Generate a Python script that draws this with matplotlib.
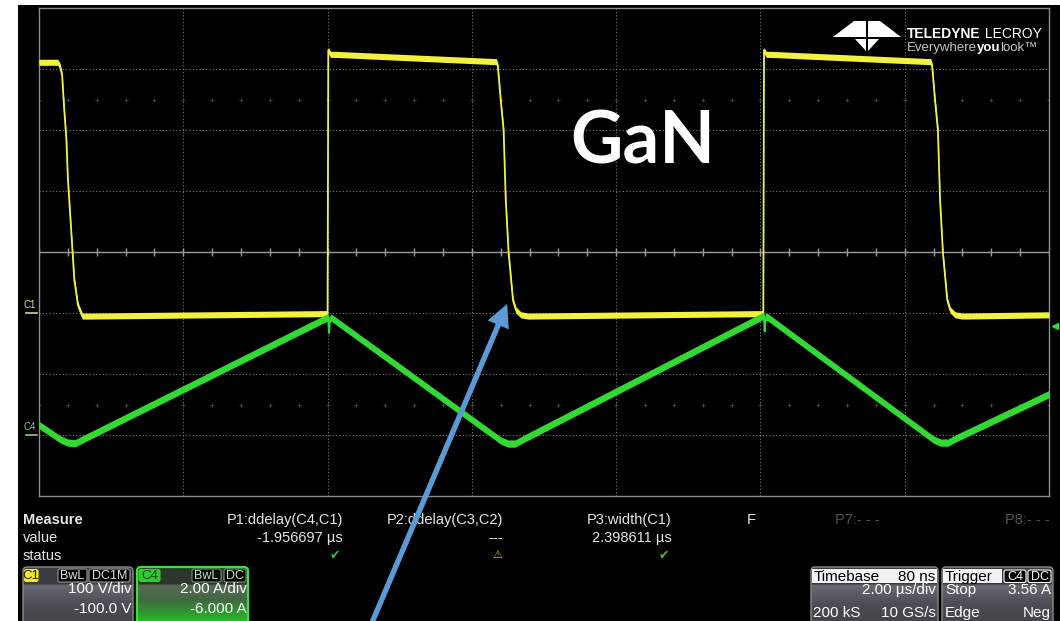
import numpy as np
import matplotlib
matplotlib.use('Agg')
import matplotlib.pyplot as plt
from matplotlib.patches import Rectangle, FancyBboxPatch, Polygon, ConnectionPatch, ArrowStyle
from matplotlib.colors import LinearSegmentedColormap

plt.rcParams['font.family'] = ['Liberation Sans', 'DejaVu Sans']

W, H = 1060, 621

# scope settings
time_div = 2.0                     # us/div
n_xdiv = 7
c1_vdiv, c1_offset = 100.0, -100.0  # V/div, V
c4_idiv, c4_offset = 2.0, -6.0      # A/div, A
trig_level = 3.56                   # A

# C1: switch node voltage (V) vs time (us)
c1_t = [0.00, 0.26, 0.29, 0.32, 0.35, 0.38, 0.40, 0.49, 0.54, 0.60, 0.70,
        4.00, 4.01, 4.04, 4.10, 6.34, 6.36, 6.40, 6.44, 6.47, 6.51, 6.57, 6.61, 6.68, 6.78,
        10.04, 10.05, 10.08, 10.14, 12.36, 12.38, 12.42, 12.46, 12.49, 12.53, 12.59, 12.63, 12.70, 12.80,
        14.00]
c1_v = [411, 411, 405, 390, 333, 284, 221, 54, 13, -5, -5,
        -1, 431, 424, 424, 412, 405, 349, 300, 185, 98, 21, 5, -3, -5,
        -1, 431, 424, 424, 412, 405, 349, 300, 185, 98, 21, 5, -3, -5,
        -3]

# C4: inductor current (A) vs time (us)
c4_t = [0.00, 0.30, 0.40, 0.50, 0.60, 4.01, 4.02, 4.03, 4.05, 6.40, 6.50, 6.60, 6.70,
        10.05, 10.06, 10.07, 10.09, 12.40, 12.50, 12.60, 12.70, 14.00]
c4_i = [0.33, -0.15, -0.25, -0.27, -0.15, 3.87, 3.35, 3.80, 3.85, -0.18, -0.28, -0.28, -0.15,
        3.92, 3.40, 3.85, 3.88, -0.15, -0.25, -0.25, -0.12, 1.34]

# measurement table
meas_names = ['P1:ddelay(C4,C1)', 'P2:ddelay(C3,C2)', 'P3:width(C1)']
meas_values = ['-1.956697 µs', '---', '2.398611 µs']
meas_status = ['ok', 'warn', 'ok']

YEL = '#f2f23c'
GRN = '#32d932'
GRID = '#7c7c7c'
BOX_FS = 11

fig = plt.figure(figsize=(W / 100, H / 100), dpi=100, facecolor='white')

# background / panel axes in pixel coords (y down)
ax_bg = fig.add_axes([0, 0, 1, 1])
ax_bg.set_xlim(0, W)
ax_bg.set_ylim(H, 0)
ax_bg.axis('off')
ax_bg.add_patch(Rectangle((18, 5), W - 18, H - 5, fc='black', ec='none', zorder=0))

# ---- scope grid ----
L, R, T, B = 39, 1049, 8, 496
ax = fig.add_axes([L / W, 1 - B / H, (R - L) / W, (B - T) / H])
ax.set_facecolor('none')
ax.set_xlim(0, n_xdiv * time_div)
ax.set_ylim(-4, 4)
ax.set_xticks([])
ax.set_yticks([])
for s in ax.spines.values():
    s.set_color('#8c8c8c')
    s.set_linewidth(1.0)
for k in range(1, n_xdiv):
    ax.axvline(k * time_div, color=GRID, lw=0.8, ls=(0, (1, 2)))
for k in [-3, -2, -1, 1, 2, 3]:
    ax.axhline(k, color=GRID, lw=0.8, ls=(0, (1, 2)))
ax.axhline(0, color='#9c9c9c', lw=1.0)
ticks = np.arange(0, n_xdiv * time_div + 0.001, time_div / 5)
ax.plot(ticks, np.zeros_like(ticks), ls='none', marker='|', ms=6, mew=1, color='#9c9c9c')
for yy in (2.5, -2.5):
    ax.plot(ticks, np.full_like(ticks, yy), ls='none', marker='+', ms=3, mew=0.7, color='#444444')

# C1 trace (volts)
ax_c1 = ax.twinx()
c1_center = -c1_offset
ax_c1.set_ylim(c1_center - 4 * c1_vdiv, c1_center + 4 * c1_vdiv)
ax_c1.axis('off')
v = np.array(c1_v, dtype=float)
ax_c1.fill_between(c1_t, v - 5, v + 5, color=YEL, lw=0)
ax_c1.plot(c1_t, v, color=YEL, lw=1.3)

# C4 trace (amps)
ax_c4 = ax.twinx()
c4_center = -c4_offset
ax_c4.set_ylim(c4_center - 4 * c4_idiv, c4_center + 4 * c4_idiv)
ax_c4.axis('off')
i = np.array(c4_i, dtype=float)
ax_c4.fill_between(c4_t, i - 0.12, i + 0.12, color=GRN, lw=0)
ax_c4.plot(c4_t, i, color=GRN, lw=1.5)

# channel ground markers and trigger level
for a, name, col in [(ax_c1, 'C1', '#d8d890'), (ax_c4, 'C4', '#90c890')]:
    tr = a.get_yaxis_transform()
    a.plot([-0.013, -0.002], [0, 0], color=col, lw=1.2, transform=tr, clip_on=False)
    a.annotate(name, xy=(-0.0158, 0), xycoords=tr, xytext=(0, 2), textcoords='offset points',
               fontsize=7, color=col, va='bottom', ha='left', annotation_clip=False)
ax_c4.plot([1.006], [trig_level], marker='<', ms=5, color=GRN, transform=ax_c4.get_yaxis_transform(),
           clip_on=False)

# ---- measurement panel ----
txt = dict(color='#e6e6e6', fontsize=10.5, va='center')
ax_bg.text(23, 520, 'Measure', fontweight='bold', **txt)
ax_bg.text(23, 538, 'value', **txt)
ax_bg.text(23, 556, 'status', **txt)
for xr, name, val, st in zip([343, 503, 672], meas_names, meas_values, meas_status):
    ax_bg.text(xr, 520, name, ha='right', **txt)
    ax_bg.text(xr, 538, val, ha='right', **txt)
    if st == 'ok':
        ax_bg.text(xr - 3, 556, '\u2714', ha='right', va='center', fontsize=9, color='#3cb83c',
                   family='DejaVu Sans')
    else:
        ax_bg.text(xr - 1, 555, '\u26a0', ha='right', va='center', fontsize=8, color='#e8c41c',
                   family='DejaVu Sans')
ax_bg.text(747, 520, 'F', ha='left', **txt)
ax_bg.text(835, 520, 'P7:- - -', ha='left', color='#555555', fontsize=10.5, va='center')
ax_bg.text(1050, 520, 'P8:- - -', ha='right', color='#555555', fontsize=10.5, va='center')


def grad_box(x0, y0, x1, y1, stops, edge, lw=1.0):
    patch = FancyBboxPatch((x0, y0), x1 - x0, y1 - y0, boxstyle='round,pad=0,rounding_size=4',
                           fc='none', ec=edge, lw=lw, zorder=3)
    ax_bg.add_patch(patch)
    cmap = LinearSegmentedColormap.from_list('g', stops)
    img = ax_bg.imshow(np.linspace(0, 1, 64)[:, None], cmap=cmap, extent=(x0, x1, y1, y0),
                       aspect='auto', zorder=1, interpolation='bilinear')
    img.set_clip_path(patch)


def tag(x0, y0, x1, y1, s, fc, tc, ec='#9a9a9a', fs=9):
    ax_bg.add_patch(FancyBboxPatch((x0, y0), x1 - x0, y1 - y0, boxstyle='round,pad=0,rounding_size=2',
                                   fc=fc, ec=ec, lw=0.8, zorder=4))
    ax_bg.text((x0 + x1) / 2, (y0 + y1) / 2 + 0.5, s, ha='center', va='center', fontsize=fs,
               color=tc, zorder=5)


def body(x, y, s, ha, col='white'):
    ax_bg.text(x, y, s, ha=ha, va='baseline', fontsize=BOX_FS, color=col, zorder=5)


gray_stops = [(0, '#3a3a42'), (0.27, '#3a3a42'), (0.30, '#686872'), (0.62, '#4c4c54'), (1, '#424248')]
green_stops = [(0, '#2c362c'), (0.27, '#2c362c'), (0.30, '#5a665a'), (0.55, '#3f6a3f'), (1, '#1ed21e')]

# C1 box
grad_box(23, 567, 133, 628, gray_stops, '#8a8a8a')
tag(24.5, 569.5, 38, 581.5, 'C1', '#f0e832', '#222200', ec='#f0e832', fs=9.5)
tag(58, 569, 87, 582, 'BwL', 'black', '#dddddd')
tag(89, 569, 130, 582, 'DC1M', 'black', '#dddddd')
body(132, 593, '100 V/div', 'right')
body(132, 613, '-100.0 V', 'right')

# C4 box
grad_box(137, 567, 248, 628, green_stops, '#38e038', lw=1.6)
tag(139, 569.5, 160, 581.5, 'C4', '#2ad02a', '#103010', ec='#2ad02a', fs=9.5)
tag(192, 569, 221, 582, 'BwL', 'black', '#bfe8bf', ec='#6a9a6a')
tag(224, 569, 246, 582, 'DC', 'black', '#bfe8bf', ec='#6a9a6a')
body(247, 593, '2.00 A/div', 'right')
body(247, 613, '-6.000 A', 'right')

# Timebase box
grad_box(811, 567, 938, 628, gray_stops, '#8a8a8a')
ax_bg.add_patch(Rectangle((812, 569), 125, 14, fc='#f4f4f4', ec='none', zorder=4))
body(814, 581, 'Timebase', 'left', 'black')
body(935, 581, '80 ns', 'right', 'black')
body(936, 594, '2.00 µs/div', 'right')
body(813, 617, '200 kS', 'left')
body(936, 617, '10 GS/s', 'right')

# Trigger box
grad_box(942, 567, 1053, 628, gray_stops, '#8a8a8a')
ax_bg.add_patch(Rectangle((943, 569), 59, 14, fc='#f4f4f4', ec='none', zorder=4))
body(945, 581, 'Trigger', 'left', 'black')
tag(1004, 570, 1026, 582.5, 'C4', 'black', 'white', ec='white')
tag(1028, 570, 1051, 582.5, 'DC', 'black', 'white', ec='white')
body(945, 594, 'Stop', 'left')
body(1051, 594, f'{trig_level:.2f} A', 'right')
body(945, 617, 'Edge', 'left')
body(1051, 617, 'Neg', 'right')
ax_bg.set_xlim(0, W)
ax_bg.set_ylim(H, 0)

# ---- overlay: logo, GaN label, arrow ----
ax_top = fig.add_axes([0, 0, 1, 1])
ax_top.set_xlim(0, W)
ax_top.set_ylim(H, 0)
ax_top.axis('off')
ax_top.set_zorder(5)

for poly in ([(833, 37), (854, 21), (866, 21), (866, 37)],
             [(901, 37), (880, 21), (868, 21), (868, 37)],
             [(855, 39), (866, 39), (866, 51)],
             [(868, 39), (879, 39), (868, 51)]):
    ax_top.add_patch(Polygon(poly, closed=True, fc='white', ec='none'))

renderer = fig.canvas.get_renderer()


def run_text(x, y, parts, size):
    for s, weight, col in parts:
        t = ax_top.text(x, y, s, fontsize=size, fontweight=weight, color=col, va='baseline', ha='left')
        x += t.get_window_extent(renderer).width


run_text(907, 38, [('TELEDYNE', 'bold', 'white'), (' LECROY', 'normal', 'white')], 10)
run_text(907, 51, [('Everywhere', 'normal', '#c4c4c4'), ('you', 'bold', 'white'),
                   ('look\u2122', 'normal', '#c4c4c4')], 9.5)

ax_top.text(570, 164, 'GaN', fontsize=52, fontweight='bold', family='Lato', color='white',
            va='baseline', ha='left')

arrow = ConnectionPatch(xyA=(368, 632), coordsA=ax_top.transData,
                        xyB=(6.49, 15), coordsB=ax_c1.transData,
                        arrowstyle=ArrowStyle.Simple(head_length=0.55, head_width=0.55, tail_width=0.13),
                        mutation_scale=30, fc='#5b9bd5', ec='none', lw=0, zorder=10)
fig.add_artist(arrow)

fig.savefig('out.png', dpi=100, facecolor=fig.get_facecolor())
